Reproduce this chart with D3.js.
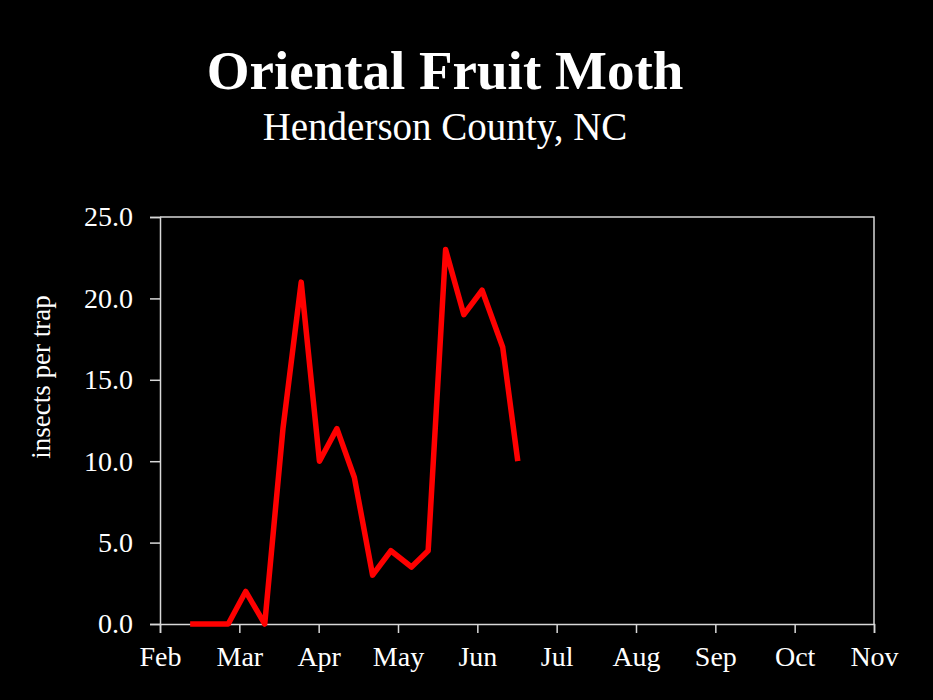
<!DOCTYPE html>
<html>
<head>
<meta charset="utf-8">
<script src="https://cdn.jsdelivr.net/npm/d3@7"></script>
<style>
  body { margin: 0; background: #000; }
  svg { display: block; }
  text { font-family: "Liberation Serif", "DejaVu Serif", serif; fill: #fff; }
</style>
</head>
<body>
<div id="my_dataviz"></div>
<script>
// month tick labels (axis is evenly spaced, one step per month)
var months = ["Feb", "Mar", "Apr", "May", "Jun", "Jul", "Aug", "Sep", "Oct", "Nov"];
// sample dates, as months after Feb 1
var sampleMonth = [0.38, 0.62, 0.86, 1.08, 1.32, 1.55, 1.78, 2.01, 2.23, 2.45, 2.68, 2.91, 3.17, 3.38, 3.60, 3.83, 4.06, 4.32, 4.51];
// insects per trap
var insects = [0, 0, 0, 2.0, 0, 12.0, 21.0, 10.0, 12.0, 9.0, 3.0, 4.5, 3.5, 4.5, 23.0, 19.0, 20.5, 17.0, 10.0];
var yTicks = [0, 5, 10, 15, 20, 25];

var margin = {top: 217, right: 59, bottom: 76, left: 160};
var width = 933 - margin.left - margin.right;
var height = 700 - margin.top - margin.bottom;

var root = d3.select("#my_dataviz")
    .append("svg")
    .attr("width", 933)
    .attr("height", 700)
    .style("background", "#000");

// titles
root.append("text")
    .attr("x", 445)
    .attr("y", 89)
    .attr("text-anchor", "middle")
    .style("font-size", "55px")
    .style("font-weight", "bold")
    .text("Oriental Fruit Moth");

root.append("text")
    .attr("x", 445)
    .attr("y", 140)
    .attr("text-anchor", "middle")
    .style("font-size", "39px")
    .text("Henderson County, NC");

var svg = root.append("g")
    .attr("transform", "translate(" + margin.left + "," + margin.top + ")");

var xScale = d3.scaleLinear()
    .domain([0, months.length - 1])
    .range([0, width]);

var yScale = d3.scaleLinear()
    .domain([0, 25])
    .range([height, 0]);

var axisColor = "#d8d8d8";

// frame top + right
svg.append("path")
    .attr("d", "M0,0H" + width + "V" + height)
    .attr("fill", "none")
    .attr("stroke", axisColor)
    .attr("stroke-width", 1.5);

// X axis
var xAxis = svg.append("g")
    .attr("transform", "translate(0," + height + ")")
    .call(d3.axisBottom(xScale)
        .tickValues(d3.range(months.length))
        .tickFormat(function(d) { return months[d]; })
        .tickSize(9)
        .tickPadding(13));

// Y axis
var yAxis = svg.append("g")
    .call(d3.axisLeft(yScale)
        .tickValues(yTicks)
        .tickFormat(d3.format(".1f"))
        .tickSize(10)
        .tickPadding(17));

[xAxis, yAxis].forEach(function(ax) {
    ax.select(".domain").attr("stroke", axisColor).attr("stroke-width", 1.5);
    ax.selectAll(".tick line").attr("stroke", axisColor).attr("stroke-width", 1.5);
    ax.selectAll(".tick text")
        .attr("fill", "#fff")
        .style("font-family", "'Liberation Serif', serif")
        .style("font-size", "28px");
});

// axis title
svg.append("text")
    .attr("transform", "translate(" + (-110) + "," + 160 + ") rotate(-90)")
    .attr("text-anchor", "middle")
    .style("font-size", "27px")
    .text("insects per trap");

// the line
var line = d3.line()
    .x(function(d, i) { return xScale(sampleMonth[i]); })
    .y(function(d) { return yScale(d); });

svg.append("path")
    .datum(insects)
    .attr("fill", "none")
    .attr("stroke", "#ff0000")
    .attr("stroke-width", 5.5)
    .attr("stroke-linejoin", "round")
    .attr("d", line);
</script>
</body>
</html>
